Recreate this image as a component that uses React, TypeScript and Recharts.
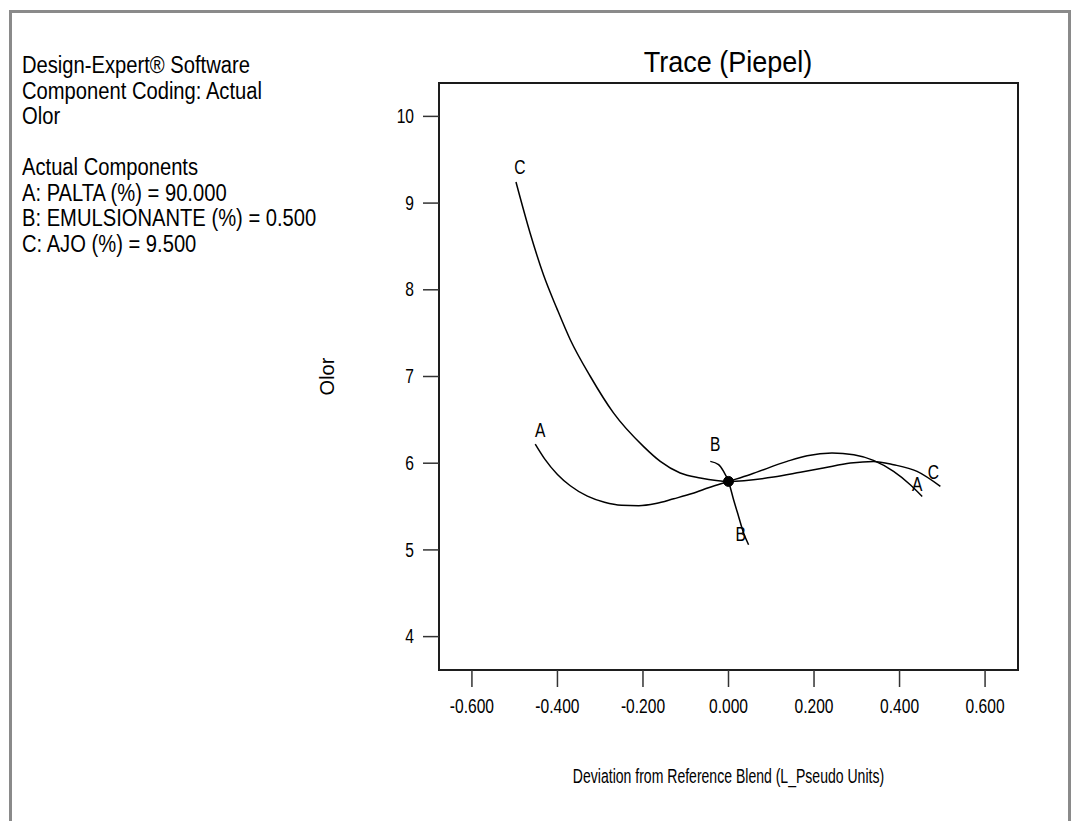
import {
  LineChart,
  Line,
  XAxis,
  YAxis,
  ReferenceArea,
  ReferenceDot,
} from 'recharts';

// Piepel trace of "Olor" for each component, deviation in L_Pseudo units
const traceAX = [-0.452, -0.43, -0.4, -0.37, -0.33, -0.29, -0.25, -0.21, -0.17, -0.128, -0.085, -0.045, 0, 0.051, 0.137, 0.184, 0.242, 0.293, 0.339, 0.386, 0.425, 0.453];
const traceAY = [6.22, 6.05, 5.87, 5.74, 5.62, 5.55, 5.515, 5.51, 5.535, 5.59, 5.65, 5.72, 5.79, 5.87, 6.021, 6.086, 6.117, 6.098, 6.032, 5.905, 5.752, 5.617];

const traceBX = [-0.0426, -0.0232, -0.0115, 0, 0.0119, 0.0236, 0.0353, 0.047];
const traceBY = [6.021, 5.983, 5.905, 5.79, 5.579, 5.386, 5.195, 5.06];

const traceCX = [-0.497, -0.464, -0.4325, -0.401, -0.37, -0.323, -0.269, -0.199, -0.1595, -0.113, -0.066, 0, 0.1055, 0.168, 0.222, 0.285, 0.339, 0.386, 0.441, 0.4955];
const traceCY = [9.243, 8.655, 8.17, 7.78, 7.424, 7.0, 6.58, 6.194, 6.021, 5.887, 5.83, 5.79, 5.84, 5.895, 5.944, 6.002, 6.021, 5.983, 5.905, 5.732];

// reference blend
const refX = 0;
const refOlor = 5.79;

const xTicks = [-0.6, -0.4, -0.2, 0, 0.2, 0.4, 0.6];
const yTicks = [4, 5, 6, 7, 8, 9, 10];

const infoLines = [
  'Design-Expert® Software',
  'Component Coding: Actual',
  'Olor',
  '',
  'Actual Components',
  'A: PALTA (%) = 90.000',
  'B: EMULSIONANTE (%) = 0.500',
  'C: AJO (%) = 9.500',
];

const X_DOMAIN: [number, number] = [-0.677, 0.677];
const Y_DOMAIN: [number, number] = [3.615, 10.385];

const FONT = "'Liberation Sans', Arial, sans-serif";

const toPoints = (xs: number[], ys: number[]) => xs.map((x, i) => ({ x, y: ys[i] }));

const traces = [
  { name: 'A', data: toPoints(traceAX, traceAY), start: [5, -14], end: [-5, -12] },
  { name: 'B', data: toPoints(traceBX, traceBY), start: [5, -17], end: [-8, -10] },
  { name: 'C', data: toPoints(traceCX, traceCY), start: [4, -15], end: [-7, -14] },
];

// condensed svg text (Arial squeezed horizontally)
function NarrowText({ x, y, size = 19.5, sx = 0.8, anchor = 'middle', rotate = 0, children }: any) {
  return (
    <text
      transform={`translate(${x},${y}) rotate(${rotate}) scale(${sx},1)`}
      textAnchor={anchor}
      dominantBaseline="central"
      fontSize={size}
      fontFamily={FONT}
      fill="#000"
    >
      {children}
    </text>
  );
}

function endLabel(text: string, dx: number, dy: number) {
  return (props: any) => {
    const vb = props.viewBox || {};
    return (
      <NarrowText x={vb.x + dx} y={vb.y + dy}>
        {text}
      </NarrowText>
    );
  };
}

const XTick = (props: any) => (
  <NarrowText x={props.x} y={props.y + 9}>
    {Number(props.payload.value).toFixed(3)}
  </NarrowText>
);

const YTick = (props: any) => (
  <NarrowText x={props.x} y={props.y} anchor="end">
    {props.payload.value}
  </NarrowText>
);

export default function App() {
  return (
    <div
      style={{
        position: 'absolute',
        left: 0,
        top: 0,
        width: 1071,
        height: 821,
        overflow: 'hidden',
        background: '#fff',
        fontFamily: FONT,
        color: '#000',
      }}
    >
      {/* grey window frame */}
      <div
        style={{
          position: 'absolute',
          left: 9,
          top: 10,
          width: 1056,
          height: 900,
          borderLeft: '3px solid #8a8a8a',
          borderTop: '3px solid #8a8a8a',
          borderRight: '3px solid #8a8a8a',
        }}
      />

      <div
        style={{
          position: 'absolute',
          left: 22,
          top: 53,
          fontSize: 23,
          lineHeight: '25.5px',
          transform: 'scaleX(0.877)',
          transformOrigin: 'left top',
        }}
      >
        {infoLines.map((line, i) => (
          <div key={i} style={{ height: 25.5, whiteSpace: 'nowrap' }}>
            {line}
          </div>
        ))}
      </div>

      <div
        style={{
          position: 'absolute',
          left: 528,
          top: 47,
          width: 400,
          textAlign: 'center',
          fontSize: 30,
          lineHeight: '30px',
          transform: 'scaleX(0.9)',
        }}
      >
        Trace (Piepel)
      </div>

      <LineChart
        width={1071}
        height={821}
        margin={{ top: 83, right: 53, bottom: 111, left: 379 }}
        style={{ position: 'absolute', left: 0, top: 0 }}
      >
        <XAxis
          dataKey="x"
          type="number"
          domain={X_DOMAIN}
          ticks={xTicks}
          allowDataOverflow
          height={40}
          tickSize={17}
          tickMargin={10}
          tick={<XTick />}
          stroke="#222"
          tickLine={{ stroke: '#333', strokeWidth: 1.5 }}
          label={{
            content: (props: any) => {
              const vb = props.viewBox || {};
              return (
                <NarrowText x={vb.x + vb.width / 2} y={777} size={19.5} sx={0.72}>
                  Deviation from Reference Blend (L_Pseudo Units)
                </NarrowText>
              );
            },
          }}
        />
        <YAxis
          type="number"
          domain={Y_DOMAIN}
          ticks={yTicks}
          allowDataOverflow
          width={60}
          tickSize={16}
          tickMargin={9}
          tick={<YTick />}
          stroke="#222"
          tickLine={{ stroke: '#333', strokeWidth: 1.5 }}
          label={{
            content: (props: any) => {
              const vb = props.viewBox || {};
              return (
                <NarrowText x={vb.x + vb.width - 112} y={vb.y + vb.height / 2} size={20} sx={1} rotate={-90}>
                  Olor
                </NarrowText>
              );
            },
          }}
        />

        {/* plot frame */}
        <ReferenceArea
          x1={X_DOMAIN[0]}
          x2={X_DOMAIN[1]}
          y1={Y_DOMAIN[0]}
          y2={Y_DOMAIN[1]}
          fill="none"
          fillOpacity={0}
          stroke="#1a1a1a"
          strokeWidth={2}
          ifOverflow="visible"
        />

        {traces.map((t) => (
          <Line
            key={t.name}
            data={t.data}
            dataKey="y"
            type="monotone"
            stroke="#000"
            strokeWidth={1.5}
            dot={false}
            activeDot={false}
            isAnimationActive={false}
          />
        ))}

        {traces.map((t) => {
          const first = t.data[0];
          const last = t.data[t.data.length - 1];
          return [
            <ReferenceDot
              key={`${t.name}-s`}
              x={first.x}
              y={first.y}
              r={0}
              stroke="none"
              fill="none"
              label={{ content: endLabel(t.name, t.start[0], t.start[1]) }}
            />,
            <ReferenceDot
              key={`${t.name}-e`}
              x={last.x}
              y={last.y}
              r={0}
              stroke="none"
              fill="none"
              label={{ content: endLabel(t.name, t.end[0], t.end[1]) }}
            />,
          ];
        })}

        <ReferenceDot x={refX} y={refOlor} r={5} fill="#000" stroke="#000" />
      </LineChart>
    </div>
  );
}
